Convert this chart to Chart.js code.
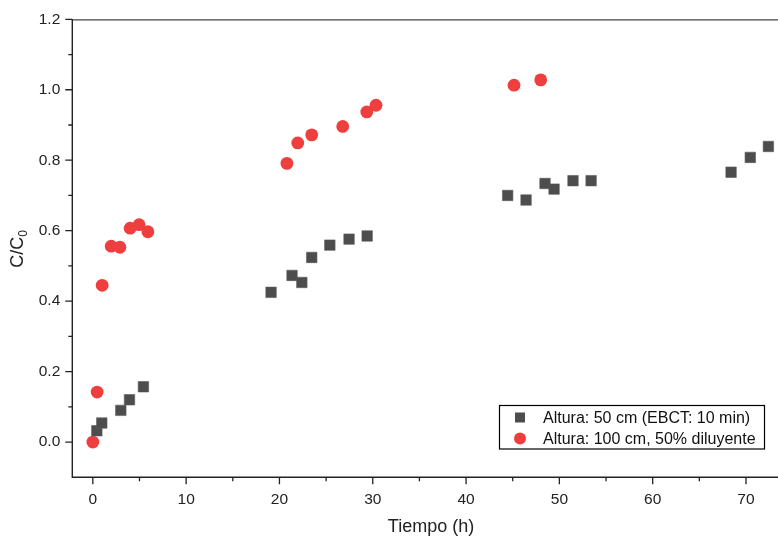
<!DOCTYPE html>
<html>
<head>
<meta charset="utf-8">
<script src="https://cdn.jsdelivr.net/npm/chart.js@4.4.1/dist/chart.umd.min.js"></script>
<style>
    body { margin: 0; background: #fff; }
    #wrap { width: 778px; height: 537px; }
</style>
</head>
<body>
<div id="wrap"><canvas id="breakChart"></canvas></div>
<script>
// ---------- DATA ----------
const tiempo50 = [0.43, 0.96, 3.0, 3.93, 5.42, 19.1, 21.35, 22.4, 23.46, 25.4, 27.46, 29.4,
    44.46, 46.43, 48.46, 49.43, 51.46, 53.4, 68.4, 70.46, 72.4];
const cc50 = [0.032, 0.054, 0.090, 0.120, 0.157, 0.425, 0.473, 0.453, 0.524, 0.559, 0.576, 0.585,
    0.700, 0.687, 0.734, 0.718, 0.742, 0.742, 0.766, 0.808, 0.839];

const tiempo100 = [0, 0.46, 1.0, 1.97, 2.9, 4.0, 4.96, 5.9, 20.8, 21.96, 23.46, 26.78, 29.36, 30.35,
    45.14, 48.0];
const cc100 = [0, 0.142, 0.445, 0.556, 0.553, 0.607, 0.617, 0.597, 0.791, 0.849, 0.872, 0.896,
    0.937, 0.956, 1.013, 1.028];

const xTicks = [0, 10, 20, 30, 40, 50, 60, 70];
const xMinorTicks = [5, 15, 25, 35, 45, 55, 65];
const yTicks = [0.0, 0.2, 0.4, 0.6, 0.8, 1.0, 1.2];
const yMinorTicks = [0.1, 0.3, 0.5, 0.7, 0.9, 1.1];

const seriesNames = ["Altura: 50 cm (EBCT: 10 min)", "Altura: 100 cm, 50% diluyente"];

const FONT = "'Liberation Sans', Arial, sans-serif";

function toPoints(xs, ys) {
    return xs.map((x, i) => ({ x: x, y: ys[i] }));
}

// ---------- FRAME, TICKS, TITLES, LEGEND ----------
const framePlugin = {
    id: "frame",
    afterDraw(chart) {
        const ctx = chart.ctx;
        const a = chart.chartArea;
        const xs = chart.scales.x;
        const ys = chart.scales.y;
        ctx.save();

        // top border
        ctx.strokeStyle = "#444";
        ctx.lineWidth = 1.2;
        ctx.beginPath();
        ctx.moveTo(a.left, a.top + 0.5);
        ctx.lineTo(a.right, a.top + 0.5);
        ctx.stroke();

        // axis lines
        ctx.strokeStyle = "#222";
        ctx.lineWidth = 1.4;
        ctx.beginPath();
        ctx.moveTo(a.left, a.top);
        ctx.lineTo(a.left, a.bottom);
        ctx.lineTo(a.right, a.bottom);
        ctx.stroke();

        // ticks
        ctx.lineWidth = 1.3;
        ctx.beginPath();
        xTicks.forEach(v => {
            const px = xs.getPixelForValue(v);
            ctx.moveTo(px, a.bottom); ctx.lineTo(px, a.bottom + 7);
        });
        xMinorTicks.forEach(v => {
            const px = xs.getPixelForValue(v);
            ctx.moveTo(px, a.bottom); ctx.lineTo(px, a.bottom + 4);
        });
        yTicks.forEach(v => {
            const py = ys.getPixelForValue(v);
            ctx.moveTo(a.left, py); ctx.lineTo(a.left - 7, py);
        });
        yMinorTicks.forEach(v => {
            const py = ys.getPixelForValue(v);
            ctx.moveTo(a.left, py); ctx.lineTo(a.left - 4, py);
        });
        ctx.stroke();

        // x title
        ctx.fillStyle = "#222";
        ctx.font = "18px " + FONT;
        ctx.textAlign = "center";
        ctx.textBaseline = "alphabetic";
        ctx.fillText("Tiempo (h)", 431, 532);

        // y title with subscript
        ctx.translate(23, 249);
        ctx.rotate(-Math.PI / 2);
        const main = "C/C";
        const wMain = ctx.measureText(main).width;
        ctx.font = "12px " + FONT;
        const wSub = ctx.measureText("0").width;
        const start = -(wMain + wSub) / 2;
        ctx.textAlign = "left";
        ctx.font = "18px " + FONT;
        ctx.fillText(main, start, 0);
        ctx.font = "12px " + FONT;
        ctx.fillText("0", start + wMain, 4);
        ctx.setTransform(1, 0, 0, 1, 0, 0);

        // legend
        const bx = 499.5, by = 405.5, bw = 265, bh = 43.5;
        ctx.fillStyle = "#fff";
        ctx.fillRect(bx, by, bw, bh);
        ctx.strokeStyle = "#000";
        ctx.lineWidth = 1.2;
        ctx.strokeRect(bx, by, bw, bh);
        ctx.font = "16px " + FONT;
        ctx.textAlign = "left";
        ctx.textBaseline = "middle";
        chart.data.datasets.forEach((ds, i) => {
            const cy = 417.5 + i * 21;
            ctx.fillStyle = ds.backgroundColor;
            if (ds.pointStyle === "rect") {
                ctx.fillRect(520 - 5, cy - 5, 10, 10);
            } else {
                ctx.beginPath();
                ctx.arc(520, cy, 6, 0, Math.PI * 2);
                ctx.fill();
            }
            ctx.fillStyle = "#111";
            ctx.fillText(ds.label, 543, cy + 1);
        });

        ctx.restore();
    }
};

// ---------- CHART ----------
const ctx = document.getElementById("breakChart").getContext("2d");

new Chart(ctx, {
    type: "scatter",
    data: {
        datasets: [{
            label: seriesNames[0],
            data: toPoints(tiempo50, cc50),
            pointStyle: "rect",
            pointRadius: 7.4,
            pointHoverRadius: 7.4,
            backgroundColor: "#4d4d4d",
            borderColor: "#5a5a5a",
            borderWidth: 0.6
        }, {
            label: seriesNames[1],
            data: toPoints(tiempo100, cc100),
            pointStyle: "circle",
            pointRadius: 6.4,
            pointHoverRadius: 6.4,
            backgroundColor: "#ef3e3e",
            borderColor: "#ef3e3e",
            borderWidth: 0
        }]
    },
    options: {
        responsive: true,
        maintainAspectRatio: false,
        animation: false,
        layout: { autoPadding: false, padding: { top: 19.3, right: 0, left: 0, bottom: 0 } },
        plugins: {
            legend: { display: false },
            tooltip: { enabled: false }
        },
        scales: {
            x: {
                type: "linear",
                min: -2.2,
                max: 73.43,
                afterFit: s => { s.height = 59.7; s.paddingLeft = 0; s.paddingRight = 0; },
                afterBuildTicks: s => { s.ticks = xTicks.map(v => ({ value: v })); },
                grid: { display: true, drawOnChartArea: false, drawTicks: true, tickLength: 7, tickColor: "rgba(0,0,0,0)" },
                border: { display: false },
                ticks: {
                    font: { family: FONT, size: 15.5 },
                    color: "#222",
                    padding: 6,
                    maxRotation: 0,
                    callback: v => String(v)
                }
            },
            y: {
                min: -0.1,
                max: 1.2,
                afterFit: s => { s.width = 72.3; s.paddingTop = 0; s.paddingBottom = 0; },
                afterBuildTicks: s => { s.ticks = yTicks.map(v => ({ value: v })); },
                grid: { display: true, drawOnChartArea: false, drawTicks: true, tickLength: 7, tickColor: "rgba(0,0,0,0)" },
                border: { display: false },
                ticks: {
                    font: { family: FONT, size: 15.5 },
                    color: "#222",
                    padding: 5,
                    callback: v => Number(v).toFixed(1)
                }
            }
        }
    },
    plugins: [framePlugin]
});
</script>
</body>
</html>
